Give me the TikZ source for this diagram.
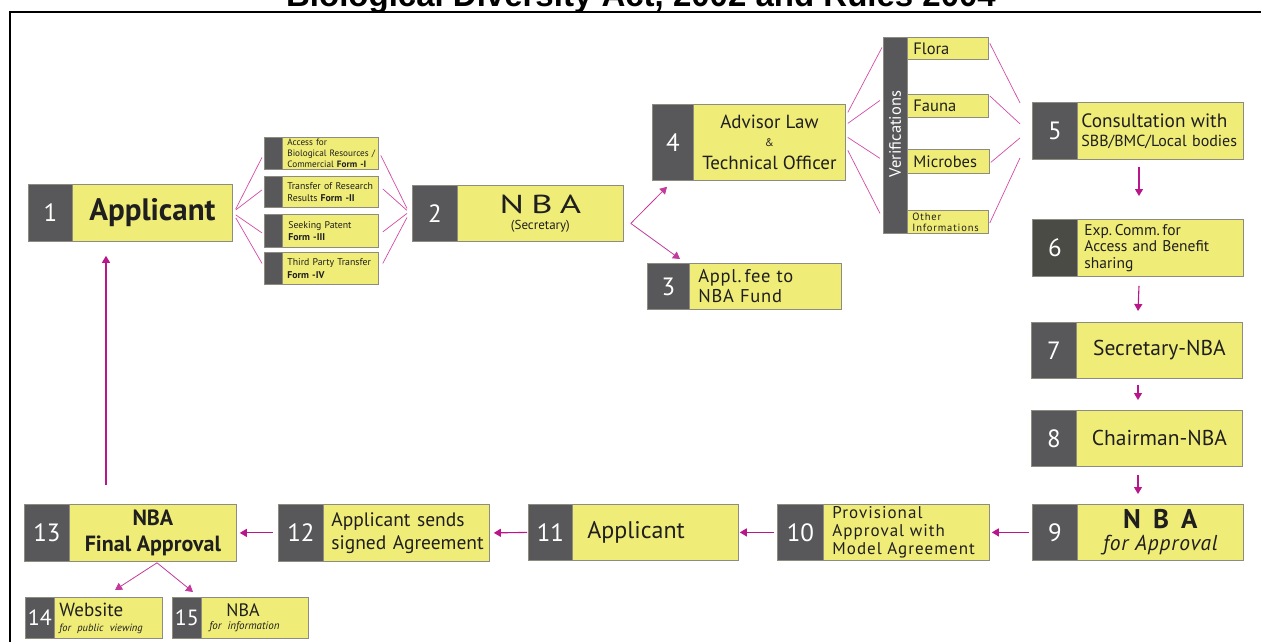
\documentclass[tikz,border=0pt]{standalone}
\usepackage{fontspec}
\setmainfont{PT Sans}
\newfontfamily\titlefont{Liberation Sans}
\usetikzlibrary{arrows.meta}
\definecolor{yel}{HTML}{F0EC78}
\definecolor{dk}{HTML}{58585A}
\definecolor{dkb}{HTML}{4B4B46}
\definecolor{bd}{HTML}{8E8C80}
\definecolor{mag}{HTML}{B8168A}
\definecolor{pnk}{HTML}{D44AA6}
\newcommand{\fs}[2]{\fontsize{#1}{#2}\selectfont}
\begin{document}
\begin{tikzpicture}[x=1pt,y=-1pt,
  numbox/.style={fill=dk, draw=bd, line width=0.8pt, text=white, anchor=north west, inner sep=0pt, font=\fs{25}{25}},
  ybox/.style={fill=yel, draw=bd, line width=0.8pt, anchor=north west, inner ysep=0pt, text=black!88},
  arr/.style={draw=mag, line width=1.1pt, -{Triangle[width=8pt,length=7pt]}},
  arrl/.style={draw=mag!85, line width=0.8pt, -{Triangle[width=8pt,length=7pt]}},
  fan/.style={draw=pnk, line width=0.7pt},
]
\useasboundingbox (0,0) rectangle (1261,641);
\clip (0,0) rectangle (1261,641);
\fill[white] (0,0) rectangle (1261,641);

% title and frame
\node[anchor=base, inner sep=0pt, font=\titlefont\bfseries\fs{33}{33}] (title) at (641,6) {Biological Diversity Act, 2002 and Rules 2004};
\draw[line width=1.6pt] (10,645) -- (10,12) -- (1265,12);

% 1
\node[numbox, minimum width=44pt, minimum height=57pt] (n1) at (28,184) {1};
\node[ybox, minimum width=160pt, minimum height=57pt, font=\bfseries\fs{31}{31}] (t1) at (72,184) {Applicant};

% forms
\node[numbox, minimum width=18pt, minimum height=32pt] (fa) at (264,137) {};
\node[ybox, minimum height=32pt, inner xsep=5pt, text width=86pt, align=left, font=\fs{9.2}{10.7}] (ga) at (282,137) {\mbox{Access for}\\\mbox{Biological Resources /}\\\mbox{Commercial \textbf{Form -I}}};
\node[numbox, minimum width=18pt, minimum height=31pt] (fb) at (264,176) {};
\node[ybox, minimum height=31pt, inner xsep=5pt, text width=86pt, align=left, font=\fs{9.8}{12.5}] (gb) at (282,176) {\mbox{Transfer of Research}\\\mbox{Results \textbf{Form -II}}};
\node[numbox, minimum width=18pt, minimum height=33pt] (fc) at (264,214) {};
\node[ybox, minimum height=33pt, inner xsep=6pt, text width=84pt, align=left, font=\fs{9.8}{12.5}] (gc) at (282,214) {\mbox{Seeking Patent}\\\mbox{\textbf{Form -III}}};
\node[numbox, minimum width=18pt, minimum height=32pt] (fd) at (264,252) {};
\node[ybox, minimum height=32pt, inner xsep=5pt, text width=86pt, align=left, font=\fs{9.8}{12.5}] (gd) at (282,252) {\mbox{Third Party Transfer}\\\mbox{\textbf{Form -IV}}};

% 2
\node[numbox, minimum width=45pt, minimum height=56pt] (n2) at (412,185) {2};
\node[ybox, minimum width=166pt, minimum height=56pt, align=center] (t2) at (457,185) {\scalebox{1.4}[1]{\fs{26}{22}\addfontfeatures{LetterSpace=20}NBA}\\[4pt]{\fs{13}{13}(Secretary)}};

% 3
\node[numbox, minimum width=42pt, minimum height=46pt] (n3) at (647,263) {3};
\node[ybox, minimum height=46pt, inner xsep=9pt, text width=134pt, align=left, font=\fs{18.5}{20}\addfontfeatures{LetterSpace=4}] (t3) at (689,263) {Appl.\,fee to\\NBA Fund};

% 4
\node[numbox, minimum width=41pt, minimum height=76pt] (n4) at (652,104) {4};
\node[ybox, minimum width=152pt, minimum height=76pt, align=center, font=\fs{19}{20.5}] (t4) at (693,104) {Advisor Law\\[-3pt]{\fs{11}{11}\&}\\[3pt]Technical Officer};

% verifications
\node[fill=dk, draw=bd, line width=0.8pt, anchor=north west, minimum width=24pt, minimum height=196pt, inner sep=0pt] (vb) at (883,37) {};
\node[rotate=90, text=white, inner sep=0pt, font=\fs{16.5}{16}] (vt) at (895,134) {Verifications};
\node[ybox, minimum height=22pt, inner xsep=6pt, text width=69pt, align=left, font=\fs{16.5}{16}] (fl) at (907,37) {Flora};
\node[ybox, minimum height=23pt, inner xsep=6pt, text width=69pt, align=left, font=\fs{16.5}{16}] (fa2) at (907,94) {Fauna};
\node[ybox, minimum height=24pt, inner xsep=6pt, text width=70pt, align=left, font=\fs{16.5}{16}] (mi) at (907,149) {Microbes};
\node[ybox, minimum height=23pt, inner xsep=5pt, text width=71pt, align=left, font=\fs{10.5}{11}\addfontfeatures{LetterSpace=8}] (ot) at (907,210) {Other\\\mbox{Informations}};

% 5
\node[numbox, minimum width=45pt, minimum height=57pt] (n5) at (1032,102) {5};
\node[ybox, minimum height=57pt, inner xsep=4pt, text width=158pt, align=left, font=\fs{16}{19}] (t5) at (1077,102) {\mbox{\fs{19.3}{19}Consultation with}\\\mbox{SBB/BMC/Local bodies}};

% 6
\node[numbox, fill=dkb, minimum width=45pt, minimum height=57pt] (n6) at (1032,219) {6};
\node[ybox, minimum height=57pt, inner xsep=7pt, text width=152pt, align=left, font=\fs{15.5}{16.5}] (t6) at (1077,219) {Exp.\,Comm.\,for\\Access and Benefit\\sharing};

% 7
\node[numbox, minimum width=45pt, minimum height=56pt] (n7) at (1031,322) {7};
\node[ybox, minimum width=166pt, minimum height=56pt, font=\fs{21.5}{21}] (t7) at (1076,322) {Secretary-NBA};

% 8
\node[numbox, minimum width=45pt, minimum height=56pt] (n8) at (1031,410) {8};
\node[ybox, minimum width=166pt, minimum height=56pt, font=\fs{21.5}{21}] (t8) at (1076,410) {Chairman-NBA};

% 9
\node[numbox, minimum width=45pt, minimum height=56pt] (n9) at (1032,504) {9};
\node[ybox, minimum width=166pt, minimum height=56pt, align=center] (t9) at (1077,504) {{\bfseries\fs{27}{19}N\hspace{0.45em}B\hspace{0.45em}A}\\[5pt]{\itshape\fs{21.5}{19}\addfontfeatures{LetterSpace=4}for Approval}};

% 10
\node[numbox, minimum width=46pt, minimum height=56pt] (n10) at (777,504) {10};
\node[ybox, minimum height=56pt, inner xsep=9pt, text width=148pt, align=left, font=\fs{17}{18}\addfontfeatures{LetterSpace=6}] (t10) at (823,504) {Provisional\\Approval with\\\mbox{Model Agreement}};

% 11
\node[numbox, minimum width=44pt, minimum height=56pt] (n11) at (528,504) {11};
\node[ybox, minimum height=56pt, inner xsep=15pt, text width=136pt, align=left, font=\fs{24}{24}] (t11) at (572,504) {Applicant};

% 12
\node[numbox, minimum width=45pt, minimum height=57pt] (n12) at (278,504) {12};
\node[ybox, minimum height=57pt, inner xsep=8pt, text width=150pt, align=left, font=\fs{19.5}{23}] (t12) at (323,504) {\mbox{Applicant sends}\\\mbox{signed Agreement}};

% 13
\node[numbox, minimum width=45pt, minimum height=57pt] (n13) at (24,504) {13};
\node[ybox, minimum width=167pt, minimum height=57pt, align=center, font=\bfseries\fs{22}{26}] (t13) at (69,504) {NBA\\Final Approval};

% 14
\node[numbox, minimum width=29pt, minimum height=41pt, font=\fs{22}{22}] (n14) at (25,597) {14};
\node[ybox, minimum height=41pt, inner xsep=5pt, text width=98pt, align=left, font=\fs{19}{15}] (t14) at (54,597) {Website\\\mbox{\itshape\fs{10.5}{15}for public viewing}};

% 15
\node[numbox, minimum width=29pt, minimum height=41pt, font=\fs{22}{22}] (n15) at (172,597) {15};
\node[ybox, minimum height=41pt, inner xsep=8pt, text width=91pt, align=left, font=\fs{18}{13}] (t15) at (201,597) {\hspace*{17pt}NBA\\\mbox{\itshape\fs{11}{13}for information}};

% fan 1 -> forms
\draw[fan] ([xshift=3pt,yshift=4pt]t1.east) -- ([xshift=-2pt,yshift=-4pt]fa.west);
\draw[fan] ([xshift=3pt,yshift=3pt]t1.east) -- ([xshift=-2pt,yshift=2pt]fb.west);
\draw[fan] ([xshift=3pt,yshift=-2pt]t1.east) -- ([xshift=-2pt,yshift=-2pt]fc.west);
\draw[fan] ([xshift=3pt,yshift=-5pt]t1.east) -- ([xshift=-2pt,yshift=5pt]fd.west);
% fan forms -> 2
\draw[fan] ([xshift=2pt,yshift=-2pt]ga.east) -- ([xshift=-5pt,yshift=5pt]n2.west);
\draw[fan] ([xshift=4pt,yshift=3pt]gb.east) -- ([xshift=-5pt,yshift=3pt]n2.west);
\draw[fan] ([xshift=4pt,yshift=-1pt]gc.east) -- ([xshift=-5pt,yshift=0pt]n2.west);
\draw[fan] ([xshift=4pt,yshift=5pt]gd.east) -- ([xshift=-5pt,yshift=-4pt]n2.west);
% fan 4 -> verifications
\draw[fan] ([xshift=2pt,yshift=30pt]t4.east) -- ([xshift=-1pt,yshift=88pt]vb.west);
\draw[fan] ([xshift=2pt,yshift=19pt]t4.east) -- ([xshift=-3pt,yshift=35pt]vb.west);
\draw[fan] ([xshift=2pt,yshift=5pt]t4.east) -- ([xshift=-3pt,yshift=-23pt]vb.west);
\draw[fan] ([xshift=2pt,yshift=-8pt]t4.east) -- ([xshift=-3pt,yshift=-78pt]vb.west);
% fan verifications -> 5
\draw[fan] ([xshift=1pt,yshift=5pt]fl.east) -- ([xshift=-12pt,yshift=28pt]n5.west);
\draw[fan] ([xshift=1pt,yshift=10pt]fa2.east) -- ([xshift=-12pt,yshift=7pt]n5.west);
\draw[fan] ([xshift=1pt,yshift=-1pt]mi.east) -- ([xshift=-12pt,yshift=-7pt]n5.west);
\draw[fan] ([xshift=1pt,yshift=-1pt]ot.east) -- ([xshift=-12pt,yshift=-27pt]n5.west);

% arrows
\draw[arrl] ([xshift=7pt,yshift=-10pt]t2.east) -- ([xshift=15pt,yshift=-6pt]n4.south west);
\draw[arrl] ([xshift=7pt,yshift=-10pt]t2.east) -- ([xshift=33pt,yshift=4pt]n3.north west);
\draw[arr] ([xshift=62pt,yshift=-7pt]t5.south west) -- ([xshift=62pt,yshift=23pt]t6.north west);
\draw[arr] ([xshift=62pt,yshift=-9pt]t6.south west) -- ([xshift=62pt,yshift=11pt]t7.north west);
\draw[arr] ([xshift=62pt,yshift=-6pt]t7.south west) -- ([xshift=62pt,yshift=10pt]t8.north west);
\draw[arr] ([xshift=62pt,yshift=-8pt]t8.south west) -- ([xshift=61pt,yshift=10pt]t9.north west);
\draw[arr] ([xshift=-3pt]n9.west) -- ([xshift=2pt]t10.east);
\draw[arr] ([xshift=-3pt]n10.west) -- ([xshift=1pt]t11.east);
\draw[arr] ([xshift=-1pt]n11.west) -- ([xshift=4pt]t12.east);
\draw[arr] ([xshift=-5pt]n12.west) -- ([xshift=3pt]t13.east);
\draw[arrl] ([xshift=88pt,yshift=-1pt]t13.south west) -- ([xshift=61pt,yshift=7pt]t14.north west);
\draw[arrl] ([xshift=88pt,yshift=-1pt]t13.south west) -- ([xshift=21pt,yshift=5pt]n15.north west);
\draw[arr] ([xshift=37pt,yshift=19pt]t13.north west) -- ([xshift=34pt,yshift=-14pt]t1.south west);
\end{tikzpicture}
\end{document}
